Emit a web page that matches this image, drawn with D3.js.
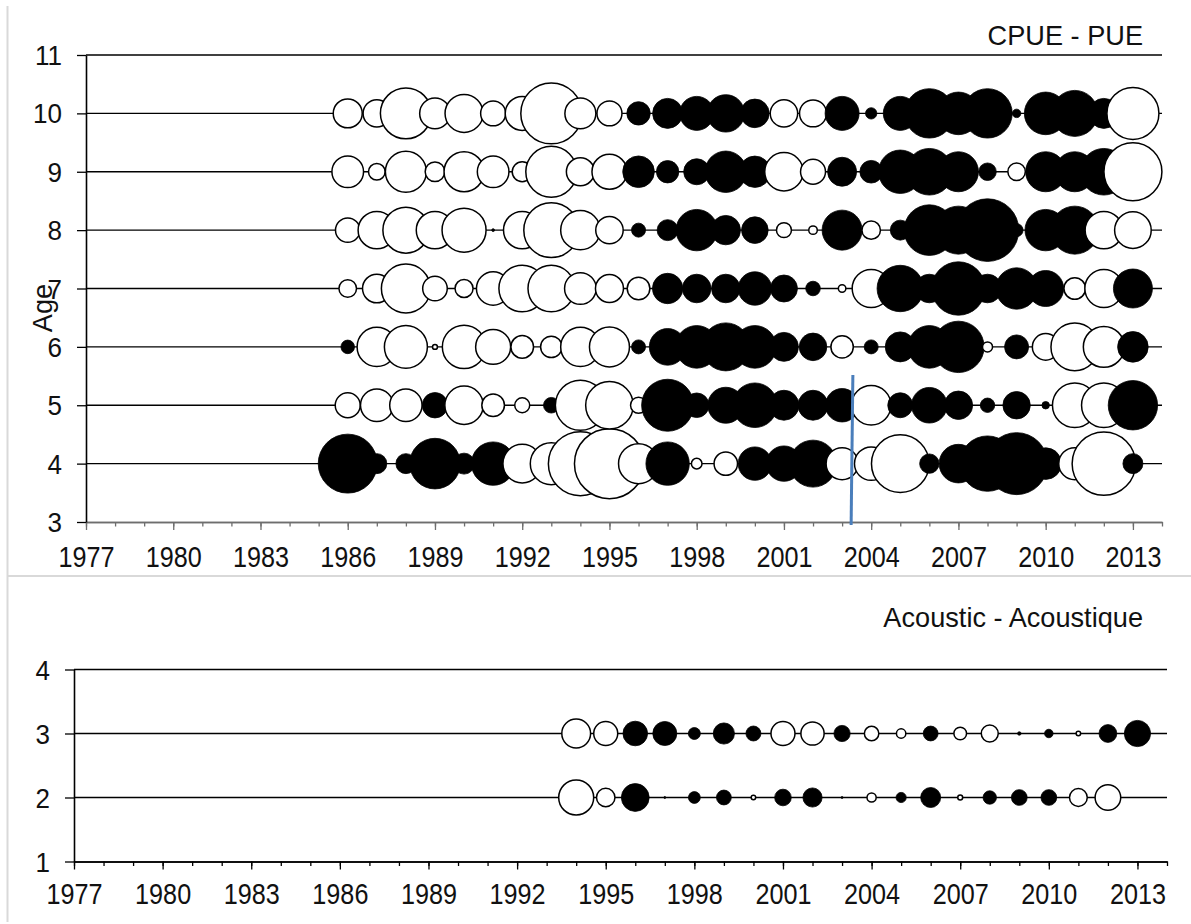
<!DOCTYPE html>
<html>
<head>
<meta charset="utf-8">
<script src="https://cdn.jsdelivr.net/npm/d3@7"></script>
<style>
  html, body { margin: 0; padding: 0; background: #fff; }
  svg { display: block; font-family: "Liberation Sans", Arial, sans-serif; }
</style>
</head>
<body>
<svg id="chart" width="1191" height="924"></svg>
<script>
// ---- Residuals by age (positive = filled, negative = open) ----
const cpueYears = [1986,1987,1988,1989,1990,1991,1992,1993,1994,1995,1996,1997,1998,1999,
                   2000,2001,2002,2003,2004,2005,2006,2007,2008,2009,2010,2011,2012,2013];
const cpueAges = [4, 5, 6, 7, 8, 9, 10];

const cpueAge4  = [8.70,1.00,1.00,6.40,1.10,4.71,-3.72,-4.41,-10.24,-12.25,-4.00,4.71,-0.28,-1.37,
                   2.79,3.13,5.52,-2.56,-2.79,-8.29,0.94,3.72,7.67,9.61,2.50,-2.56,-10.05,1.00];
const cpueAge5  = [-1.56,-2.66,-2.62,1.61,-3.69,-1.28,-0.56,0.61,-6.25,-5.66,-0.64,6.76,1.51,3.24,
                   4.97,2.25,2.25,2.79,-3.88,1.56,3.17,2.02,0.52,1.88,0.14,-4.97,-4.97,6.10];
const cpueAge6  = [0.46,-3.88,-4.62,-0.06,-4.71,-3.06,-1.28,-1.14,-3.88,-4.00,0.49,3.35,4.54,5.76,
                   4.54,2.10,1.90,-1.25,0.49,2.25,4.54,6.60,-0.25,1.44,-1.77,-5.66,-4.20,2.34];
const cpueAge7  = [-0.77,-2.04,-6.00,-1.51,-0.81,-2.79,-5.43,-5.43,-2.50,-1.96,-1.28,2.31,2.04,2.04,
                   2.79,1.82,0.53,-0.14,-3.61,5.38,2.04,7.13,2.04,4.28,3.24,-1.17,-3.61,3.80];
const cpueAge8  = [-1.49,-3.50,-5.29,-3.50,-4.84,0.02,-3.50,-7.56,-3.88,-1.88,0.49,1.10,4.28,2.16,
                   1.77,-0.56,-0.18,4.00,-0.85,1.00,6.40,5.76,9.80,0.42,4.28,5.76,-3.50,-3.35];
const cpueAge9  = [-2.50,-0.69,-4.20,-0.96,-4.00,-2.50,-1.00,-6.50,-1.96,-3.06,2.50,1.25,1.69,4.28,
                   2.46,-3.69,-1.56,2.10,1.28,4.71,5.43,4.00,0.77,-0.76,4.00,4.00,5.43,-8.41];
const cpueAge10 = [-2.10,-1.88,-6.50,-2.34,-3.61,-1.56,-2.89,-9.30,-2.40,-1.56,1.37,2.25,2.89,3.50,
                   2.04,-1.88,-1.82,2.89,0.32,2.89,6.10,4.54,6.10,0.18,4.54,5.29,2.25,-6.76];

const acousticYears = [1994,1995,1996,1997,1998,1999,2000,2001,2002,2003,
                       2004,2005,2006,2007,2008,2009,2010,2011,2012,2013];
const acousticAges = [2, 3];
const acousticAge2 = [-3.06,-0.85,1.93,0.01,0.35,0.55,-0.05,0.69,0.92,0.01,
                      -0.21,0.26,1.00,-0.06,0.45,0.62,0.62,-0.79,-1.64,0];
const acousticAge3 = [-2.07,-1.44,1.51,1.44,0.36,1.12,0.56,-1.44,-1.35,0.66,
                      -0.52,-0.22,0.55,-0.40,-0.72,0.03,0.18,-0.05,0.79,1.72];

// ---- Axis ticks ----
const yearDomain = [1977, 2014];
const yearMinorTicks = [1977,1978,1979,1980,1981,1982,1983,1984,1985,1986,1987,1988,1989,1990,
                        1991,1992,1993,1994,1995,1996,1997,1998,1999,2000,2001,2002,2003,2004,
                        2005,2006,2007,2008,2009,2010,2011,2012,2013,2014];
const yearLabelTicks = [1977,1980,1983,1986,1989,1992,1995,1998,2001,2004,2007,2010,2013];
const cpueAgeTicks = [3,4,5,6,7,8,9,10,11];
const acousticAgeTicks = [1,2,3,4];

// vertical marker drawn in the CPUE panel
const markerLine = [ {year: 2003.37, age: 5.52}, {year: 2003.31, age: 2.95} ];

const cpueSeries = { 4: cpueAge4, 5: cpueAge5, 6: cpueAge6, 7: cpueAge7, 8: cpueAge8, 9: cpueAge9, 10: cpueAge10 };
const acousticSeries = { 2: acousticAge2, 3: acousticAge3 };

// ---- Drawing ----
const svg = d3.select("#chart");
const FONT = 28;
const FONT_FAMILY = '"Liberation Sans", Arial, sans-serif';

// light frame lines
const frame = svg.append("g").attr("stroke", "#d9d9d9").attr("stroke-width", 2);
frame.append("line").attr("x1", 7.5).attr("x2", 7.5).attr("y1", 6).attr("y2", 922);
frame.append("line").attr("x1", 7).attr("x2", 1191).attr("y1", 576).attr("y2", 576);

// bubble area scale (shared by both panels)
const rScale = d3.scaleSqrt().domain([0, 12.25]).range([0, 35]);

function drawPanel(opts) {
  const x = d3.scaleLinear().domain(yearDomain).range(opts.xRange);
  const y = d3.scaleLinear().domain(opts.yDomain).range(opts.yRange);
  const g = svg.append("g");

  // horizontal gridlines
  g.append("g").selectAll("line")
    .data(opts.yTicks.filter(t => t !== opts.yDomain[0]))
    .join("line")
      .attr("x1", opts.xRange[0]).attr("x2", opts.xRange[1])
      .attr("y1", d => y(d)).attr("y2", d => y(d))
      .attr("stroke", "#000").attr("stroke-width", 1.4);

  // x axis: minor ticks
  const xMinor = g.append("g")
    .attr("transform", `translate(0,${opts.yRange[0]})`)
    .call(d3.axisBottom(x).tickValues(yearMinorTicks).tickSize(4.5).tickSizeOuter(0).tickFormat(""));
  // x axis: major ticks with labels
  const xMajor = g.append("g")
    .attr("transform", `translate(0,${opts.yRange[0]})`)
    .call(d3.axisBottom(x).tickValues(yearLabelTicks).tickSize(8).tickSizeOuter(0).tickFormat(d3.format("d")));
  [xMinor, xMajor].forEach(a => {
    a.select(".domain").attr("stroke", opts.xAxisColor).attr("stroke-width", 1.4);
    a.selectAll(".tick line").attr("stroke", opts.xAxisColor).attr("stroke-width", 1.3);
  });
  xMajor.selectAll(".tick text")
    .attr("y", opts.labelOffset / 1.08).attr("dy", 0)
    .attr("transform", "scale(0.9,1.08)")
    .attr("fill", "#111")
    .style("font-size", FONT + "px")
    .style("font-family", FONT_FAMILY);
  xMinor.selectAll(".tick text").remove();

  // y axis
  const yAxis = g.append("g")
    .attr("transform", `translate(${opts.xRange[0]},0)`)
    .call(d3.axisLeft(y).tickValues(opts.yTicks).tickSize(9).tickSizeOuter(0).tickFormat(d3.format("d")));
  yAxis.select(".domain").attr("stroke", "#000").attr("stroke-width", 1.6);
  yAxis.selectAll(".tick line").attr("stroke", "#000").attr("stroke-width", 1.3);
  yAxis.selectAll(".tick text")
    .attr("x", -24 / 0.93).attr("dy", "0.34em")
    .attr("transform", "scale(0.93,1)")
    .attr("fill", "#111")
    .style("font-size", FONT + "px")
    .style("font-family", FONT_FAMILY);

  // bubbles: one row per age, years in order
  opts.ages.forEach(age => {
    const vals = opts.series[age];
    const rows = opts.years.map((yr, i) => ({ year: yr, age: age, v: vals[i] }))
                           .filter(d => d.v !== 0);
    g.append("g").selectAll("circle")
      .data(rows)
      .join("circle")
        .attr("cx", d => x(d.year))
        .attr("cy", d => y(d.age))
        .attr("r", d => rScale(Math.abs(d.v)))
        .attr("fill", d => d.v > 0 ? "#000" : "#fff")
        .attr("stroke", "#000")
        .attr("stroke-width", d => d.v > 0 ? 0.8 : 1.5);
  });

  // panel title, right-aligned
  g.append("g")
    .attr("transform", `translate(1143,${opts.titleY})`)
    .append("text")
      .attr("text-anchor", "end")
      .attr("transform", "scale(0.97,1)")
      .attr("fill", "#111")
      .style("font-size", FONT + "px")
      .text(opts.title);

  return { x, y, g };
}

const cpuePanel = drawPanel({
  xRange: [86, 1162], yRange: [522, 55], yDomain: [3, 11],
  yTicks: cpueAgeTicks, ages: cpueAges, years: cpueYears, series: cpueSeries,
  xAxisColor: "#6e6e6e", labelOffset: 45, title: "CPUE - PUE", titleY: 45
});

const acousticPanel = drawPanel({
  xRange: [74, 1167], yRange: [861.5, 669.5], yDomain: [1, 4],
  yTicks: acousticAgeTicks, ages: acousticAges, years: acousticYears, series: acousticSeries,
  xAxisColor: "#000", labelOffset: 43, title: "Acoustic - Acoustique", titleY: 627
});

// y axis title of the CPUE panel
svg.append("g")
  .attr("transform", "translate(52,308) rotate(-90)")
  .append("text")
    .attr("text-anchor", "middle")
    .attr("transform", "scale(0.97,1)")
    .attr("fill", "#111")
    .style("font-size", FONT + "px")
    .text("Age");

// vertical marker in the CPUE panel
cpuePanel.g.append("path")
  .datum(markerLine)
  .attr("d", d3.line().x(d => cpuePanel.x(d.year)).y(d => cpuePanel.y(d.age)))
  .attr("fill", "none")
  .attr("stroke", "#4a7ebb")
  .attr("stroke-width", 3);
</script>
</body>
</html>
